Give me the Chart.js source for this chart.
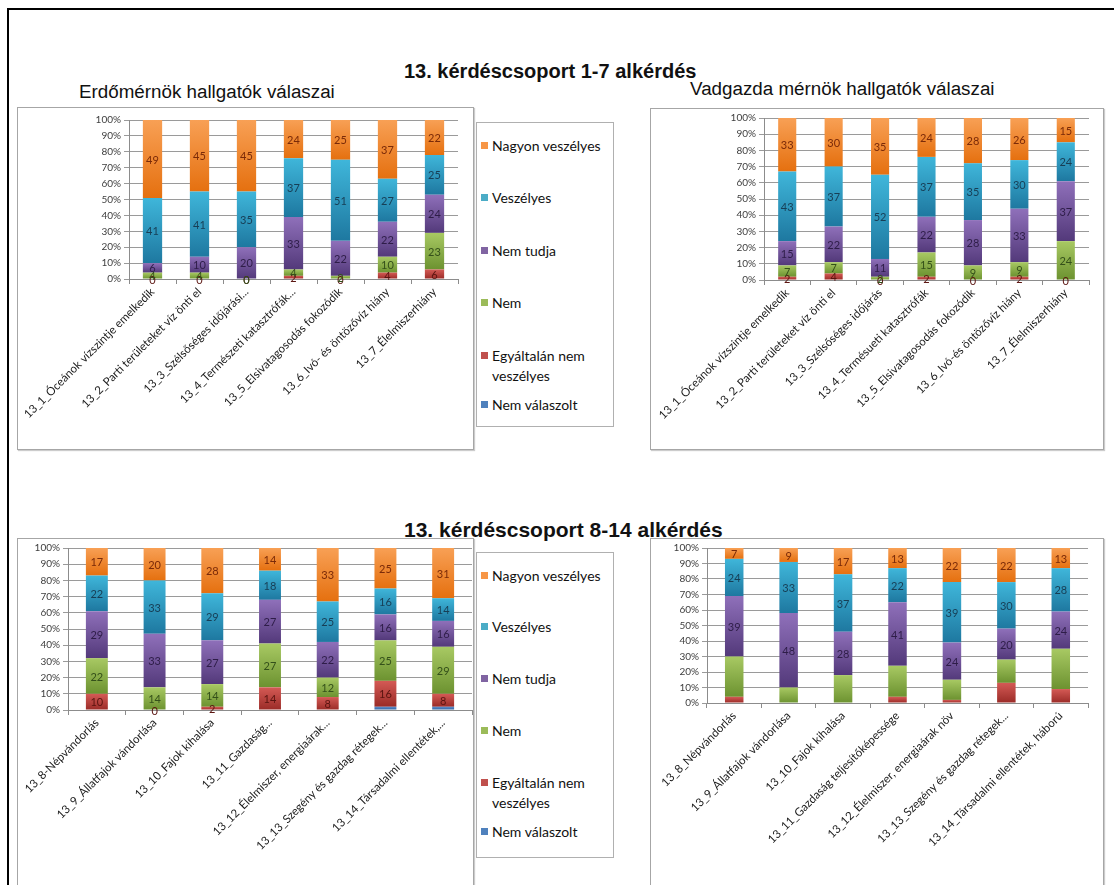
<!DOCTYPE html>
<html>
<head>
<meta charset="utf-8">
<script src="https://cdn.jsdelivr.net/npm/chart.js@4"></script>
<style>
  body { margin: 0; background: #fff; width: 1114px; height: 885px; overflow: hidden; position: relative; font-family: "Liberation Sans", Arial, sans-serif; }
  .frame { position: absolute; left: 7px; top: 8px; width: 1200px; height: 1000px; border-left: 2px solid #000; border-top: 2px solid #000; }
  .box { position: absolute; border: 1px solid #a6a6a6; box-shadow: 1px 1px 1px #ccc; background: #fff; }
  .box canvas { position: absolute; left: 0; top: 0; }
  .title { position: absolute; white-space: nowrap; color: #111; }
  .legend { position: absolute; border: 1px solid #b0b0b0; background: #fff; font-family: Lato, "Open Sans", sans-serif; font-size: 14px; color: #111; }
  .legend .item { position: absolute; left: 15px; line-height: 20px; }
  .legend .mark { position: absolute; left: -11px; top: 6px; width: 7px; height: 7px; }
</style>
</head>
<body>
<div class="frame"></div>

<div class="title" style="left:404px; top:60px; font-weight:bold; font-size:20px;">13. kérdéscsoport 1-7 alkérdés</div>
<div class="title" style="left:79px; top:81px; font-size:18.8px;">Erdőmérnök hallgatók válaszai</div>
<div class="title" style="left:690px; top:78px; font-size:18.8px;">Vadgazda mérnök hallgatók válaszai</div>
<div class="title" style="left:404px; top:518px; font-weight:bold; font-size:21px;">13. kérdéscsoport 8-14 alkérdés</div>

<div class="box" style="left:17px; top:107px; width:455px; height:341px;"><canvas id="c1" width="455" height="341"></canvas></div>
<div class="box" style="left:650px; top:108px; width:452px; height:340px;"><canvas id="c2" width="452" height="340"></canvas></div>
<div class="box" style="left:17px; top:538px; width:455px; height:360px;"><canvas id="c3" width="455" height="360"></canvas></div>
<div class="box" style="left:650px; top:538px; width:452px; height:360px;"><canvas id="c4" width="452" height="360"></canvas></div>

<div class="legend" id="leg1" style="left:476px; top:122px; width:136px; height:303px;"></div>
<div class="legend" id="leg2" style="left:476px; top:552px; width:136px; height:304px;"></div>

<script>
// series, bottom to top of each bar
const seriesNames = ['Nem válaszolt', 'Egyáltalán nem veszélyes', 'Nem', 'Nem  tudja', 'Veszélyes', 'Nagyon veszélyes'];
const seriesColors = ['#4F81BD', '#C0504D', '#9BBB59', '#8064A2', '#4BACC6', '#F79646'];

// 13_1 - 13_7, Erdőmérnök
const erdoLabels1 = ['13_1_Óceánok vízszintje emelkedik', '13_2_Parti területeket víz önti el', '13_3_Szélsőséges időjárási...', '13_4_Természeti katasztrófák...', '13_5_Elsivatagosodás fokozódik', '13_6_Ivó- és öntözővíz hiány', '13_7_Élelmiszerhiány'];
const erdoNemValaszolt1 = [0, 0, 0, 0, 0, 0, 0];
const erdoEgyaltalan1 = [0, 0, 0, 2, 0, 4, 6];
const erdoNem1 = [4, 4, 0, 4, 2, 10, 23];
const erdoNemTudja1 = [6, 10, 20, 33, 22, 22, 24];
const erdoVeszelyes1 = [41, 41, 35, 37, 51, 27, 25];
const erdoNagyon1 = [49, 45, 45, 24, 25, 37, 22];

// 13_1 - 13_7, Vadgazda
const vadLabels1 = ['13_1_Óceánok vízszintje emelkedik', '13_2_Parti területeket víz önti el', '13_3_Szélsőséges időjárás', '13_4_Termésueti katasztrófák', '13_5_Elsivatagosodás fokozódik', '13_6_Ivó-és öntözővíz hiány', '13_7_Élelmiszerhiány'];
const vadNemValaszolt1 = [0, 0, 0, 0, 0, 0, 0];
const vadEgyaltalan1 = [2, 4, 0, 2, 0, 2, 0];
const vadNem1 = [7, 7, 2, 15, 9, 9, 24];
const vadNemTudja1 = [15, 22, 11, 22, 28, 33, 37];
const vadVeszelyes1 = [43, 37, 52, 37, 35, 30, 24];
const vadNagyon1 = [33, 30, 35, 24, 28, 26, 15];

// 13_8 - 13_14, Erdőmérnök
const erdoLabels2 = ['13_8-Népvándorlás', '13_9_Állatfajok vándorlása', '13_10_Fajok kihalása', '13_11_Gazdaság...', '13_12_Élelmiszer, energiaárak...', '13_13_Szegény és gazdag rétegek...', '13_14_Társadalmi ellentétek,...'];
const erdoNemValaszolt2 = [0, 0, 0, 0, 0, 2, 2];
const erdoEgyaltalan2 = [10, 0, 2, 14, 8, 16, 8];
const erdoNem2 = [22, 14, 14, 27, 12, 25, 29];
const erdoNemTudja2 = [29, 33, 27, 27, 22, 16, 16];
const erdoVeszelyes2 = [22, 33, 29, 18, 25, 16, 14];
const erdoNagyon2 = [17, 20, 28, 14, 33, 25, 31];

// 13_8 - 13_14, Vadgazda
const vadLabels2 = ['13_8_Népvándorlás', '13_9_Állatfajok vándorlása', '13_10_Fajok kihalása', '13_11_Gazdaság teljesítőképessége', '13_12_Élelmiszer, energiaárak növ', '13_13_Szegény és gazdag rétegek...', '13_14_Társadalmi ellentétek, háború'];
const vadNemValaszolt2 = [0, 0, 0, 0, 0, 0, 0];
const vadEgyaltalan2 = [4, 0, 0, 4, 2, 13, 9];
const vadNem2 = [26, 10, 18, 20, 13, 15, 26];
const vadNemTudja2 = [39, 48, 28, 41, 24, 20, 24];
const vadVeszelyes2 = [24, 33, 37, 22, 39, 30, 28];
const vadNagyon2 = [7, 9, 17, 13, 22, 22, 13];

const yTicks = [0, 10, 20, 30, 40, 50, 60, 70, 80, 90, 100];

// look only
const lightCol = ['#5d8fd0', '#d45a55', '#a8c963', '#8f70ba', '#3fb6da', '#f8a055'];
const darkCol = ['#2f5d99', '#9a2b27', '#6c9230', '#53397a', '#1e78a0', '#e5700f'];
const labelCol = ['#1f3a60', '#5a1410', '#34501a', '#2e1d48', '#173e55', '#7a2a08'];

function shade(i) {
  return function (ctx) {
    const chart = ctx.chart;
    const y = chart.scales.y;
    if (!chart.chartArea || !y || ctx.type !== 'data') return seriesColors[i];
    let start = 0;
    for (let d = 0; d < ctx.datasetIndex; d++) start += chart.data.datasets[d].data[ctx.dataIndex];
    const end = start + chart.data.datasets[ctx.datasetIndex].data[ctx.dataIndex];
    const top = y.getPixelForValue(end), bot = y.getPixelForValue(start);
    if (!(bot > top)) return seriesColors[i];
    const g = chart.ctx.createLinearGradient(0, top, 0, bot);
    g.addColorStop(0, lightCol[i]);
    g.addColorStop(1, darkCol[i]);
    return g;
  };
}

// value labels in the middle of each segment
const segLabels = {
  id: 'segLabels',
  afterDatasetsDraw(chart, args, opts) {
    const ctx = chart.ctx;
    ctx.save();
    ctx.font = '11px Lato, "Open Sans", sans-serif';
    ctx.textAlign = 'center';
    ctx.textBaseline = 'middle';
    chart.data.datasets.forEach((ds, i) => {
      if (opts.series.indexOf(i) < 0) return;
      chart.getDatasetMeta(i).data.forEach((el, j) => {
        ctx.fillStyle = labelCol[i];
        ctx.fillText(String(ds.data[j]), el.x, (el.y + el.base) / 2 + 1);
      });
    });
    ctx.restore();
  }
};

function makeChart(id, labels, values, lay) {
  new Chart(document.getElementById(id), {
    type: 'bar',
    plugins: [segLabels],
    data: {
      labels: labels,
      datasets: values.map((v, i) => ({
        label: seriesNames[i],
        data: v,
        backgroundColor: shade(i),
        borderWidth: 0,
        categoryPercentage: 1,
        barPercentage: lay.bar
      }))
    },
    options: {
      responsive: false,
      animation: false,
      layout: { padding: { left: 0, top: lay.top, right: lay.right, bottom: 0 } },
      plugins: {
        legend: { display: false },
        tooltip: { enabled: false },
        segLabels: { series: lay.labelled }
      },
      scales: {
        x: {
          stacked: true,
          grid: { drawOnChartArea: false, offset: true, tickLength: 5, color: '#8c8c8c' },
          border: { color: '#8c8c8c' },
          ticks: { autoSkip: false, minRotation: 45, maxRotation: 45, padding: 1, color: '#1a1a1a', font: { family: 'Lato', size: 11.5 } },
          afterFit(s) { s.height = lay.xh; s.paddingLeft = 0; s.paddingRight = 0; }
        },
        y: {
          stacked: true,
          min: 0,
          max: 100,
          afterBuildTicks(s) { s.ticks = yTicks.map(v => ({ value: v })); },
          ticks: { callback: v => v + '%', color: '#404040', padding: 3, font: { family: 'Lato', size: 10 } },
          grid: { color: '#9a9a9a', tickLength: 5 },
          border: { color: '#8c8c8c' },
          afterFit(s) { s.width = lay.yw; }
        }
      }
    }
  });
}

makeChart('c1', erdoLabels1,
  [erdoNemValaszolt1, erdoEgyaltalan1, erdoNem1, erdoNemTudja1, erdoVeszelyes1, erdoNagyon1],
  { top: 12, right: 15, yw: 111, xh: 170, bar: 0.41, labelled: [1, 2, 3, 4, 5] });
makeChart('c2', vadLabels1,
  [vadNemValaszolt1, vadEgyaltalan1, vadNem1, vadNemTudja1, vadVeszelyes1, vadNagyon1],
  { top: 7, right: 14, yw: 113, xh: 169, bar: 0.39, labelled: [1, 2, 3, 4, 5] });
makeChart('c3', erdoLabels2,
  [erdoNemValaszolt2, erdoEgyaltalan2, erdoNem2, erdoNemTudja2, erdoVeszelyes2, erdoNagyon2],
  { top: 9, right: 1, yw: 50, xh: 189, bar: 0.38, labelled: [1, 2, 3, 4, 5] });
makeChart('c4', vadLabels2,
  [vadNemValaszolt2, vadEgyaltalan2, vadNem2, vadNemTudja2, vadVeszelyes2, vadNagyon2],
  { top: 8, right: 15, yw: 56, xh: 196, bar: 0.34, labelled: [3, 4, 5] });

// legends built from the series arrays, top entry first
function makeLegend(id, rows) {
  const el = document.getElementById(id);
  for (let k = 5; k >= 0; k--) {
    const it = document.createElement('div');
    it.className = 'item';
    it.style.top = rows[5 - k] + 'px';
    it.style.width = '118px';
    const m = document.createElement('span');
    m.className = 'mark';
    m.style.background = seriesColors[k];
    it.appendChild(m);
    it.appendChild(document.createTextNode(seriesNames[k]));
    el.appendChild(it);
  }
}
makeLegend('leg1', [13, 65, 118, 170, 223, 272]);
makeLegend('leg2', [13, 64, 116, 168, 220, 269]);
</script>
</body>
</html>
